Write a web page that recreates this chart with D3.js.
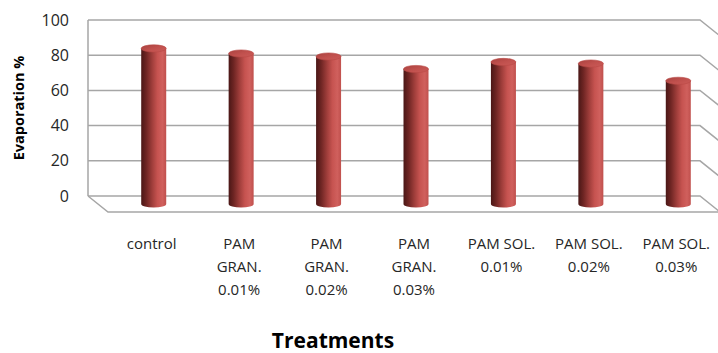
<!DOCTYPE html>
<html>
<head>
<meta charset="utf-8">
<script src="https://cdn.jsdelivr.net/npm/d3@7"></script>
<style>
  html, body { margin: 0; padding: 0; background: #fff; }
  svg { display: block; }
  text { font-family: "Open Sans", "Liberation Sans", sans-serif; }
</style>
</head>
<body>
<svg id="chart" width="718" height="353"></svg>
<script>
// Treatments and their evaporation percentages
const categories = [
  ["control"],
  ["PAM", "GRAN.", "0.01%"],
  ["PAM", "GRAN.", "0.02%"],
  ["PAM", "GRAN.", "0.03%"],
  ["PAM SOL.", "0.01%"],
  ["PAM SOL.", "0.02%"],
  ["PAM SOL.", "0.03%"]
];
const evaporation = [88.4, 85.5, 83.8, 76.7, 80.7, 79.8, 70.0];
const yTicks = [0, 20, 40, 60, 80, 100];
const yTitle = "Evaporation %";
const xTitle = "Treatments";

const W = 718, H = 353;
const svg = d3.select("#chart");

// 3D box: back wall and a depth offset toward the viewer
const depthX = 20, depthY = 16;
const backLeft = 88, backRight = 700;
const y = d3.scaleLinear().domain([0, 100]).range([196, 20]);
const x = d3.scaleBand().domain(d3.range(categories.length)).range([110, 722]);

const defs = svg.append("defs");
const clip = defs.append("clipPath").attr("id", "clipAll");
clip.append("rect").attr("x", 0).attr("y", 0).attr("width", W).attr("height", H);

// Cylinder body shading: dark on the left, lit on the right
const bodyGrad = defs.append("linearGradient").attr("id", "cylBody")
  .attr("x1", "0%").attr("x2", "100%").attr("y1", "0%").attr("y2", "0%");
[[0, "#4a1716"], [0.2, "#6e2523"], [0.45, "#a23f3c"], [0.65, "#c65350"],
 [0.85, "#d0605d"], [1, "#c0504d"]].forEach(([o, c]) =>
  bodyGrad.append("stop").attr("offset", o).attr("stop-color", c));

const topGrad = defs.append("linearGradient").attr("id", "cylTop")
  .attr("x1", "0%").attr("x2", "100%").attr("y1", "0%").attr("y2", "100%");
[[0, "#a8423f"], [0.5, "#c0504d"], [1, "#cc5b58"]].forEach(([o, c]) =>
  topGrad.append("stop").attr("offset", o).attr("stop-color", c));

const grid = svg.append("g").attr("clip-path", "url(#clipAll)")
  .attr("stroke", "#a6a6a6").attr("stroke-width", 1.5).attr("fill", "none");

// Back-wall gridlines with the right side wall running toward the viewer
yTicks.forEach(t => {
  const yy = y(t);
  grid.append("path").attr("d", d3.line()([
    [backLeft, yy], [backRight, yy], [backRight + depthX * 1.5, yy + depthY * 1.5]
  ]));
});
// left edge of the back wall
grid.append("line").attr("x1", backLeft).attr("x2", backLeft)
  .attr("y1", y(100)).attr("y2", y(0));
// floor: left diagonal and front edge
grid.append("path").attr("d", d3.line()([
  [backLeft, y(0)], [backLeft + depthX, y(0) + depthY], [W + 10, y(0) + depthY]
]));

// Y tick labels
svg.append("g").selectAll("text").data(yTicks).join("text")
  .attr("x", 69).attr("y", d => y(d) + 5.5)
  .attr("text-anchor", "end")
  .attr("font-size", 16).attr("fill", "#262626")
  .text(d => d);

// Cylinders, standing in the middle of the depth
const rx = 12.5, ry = 3.6;
const baseY = y(0) + depthY / 2;
const bars = svg.append("g");
evaporation.forEach((v, i) => {
  const cx = x(i) + x.bandwidth() / 2;
  const topY = y(v) + depthY / 2;
  const g = bars.append("g");
  g.append("path")
    .attr("d", `M${cx - rx},${topY} L${cx - rx},${baseY} A${rx},${ry} 0 0 0 ${cx + rx},${baseY} L${cx + rx},${topY} Z`)
    .attr("fill", "url(#cylBody)");
  g.append("ellipse")
    .attr("cx", cx).attr("cy", topY).attr("rx", rx).attr("ry", ry)
    .attr("fill", "url(#cylTop)")
    .attr("stroke", "#b84845").attr("stroke-width", 0.6);
});

// Category labels, one line per tspan
const labels = svg.append("g").attr("font-size", 15).attr("fill", "#262626")
  .attr("text-anchor", "middle");
categories.forEach((lines, i) => {
  const cx = x(i) + x.bandwidth() / 2 - 2;
  const t = labels.append("text").attr("x", cx).attr("y", 249);
  lines.forEach((ln, k) => {
    t.append("tspan").attr("x", cx).attr("dy", k === 0 ? 0 : 23).text(ln);
  });
});

// Axis titles
svg.append("text")
  .attr("transform", `translate(24,${108}) rotate(-90)`)
  .attr("text-anchor", "middle")
  .attr("font-size", 14.5).attr("font-weight", "bold").attr("fill", "#000")
  .text(yTitle);

svg.append("text")
  .attr("x", 333).attr("y", 348)
  .attr("text-anchor", "middle")
  .attr("font-size", 21).attr("font-weight", "bold").attr("fill", "#000")
  .text(xTitle);
</script>
</body>
</html>
